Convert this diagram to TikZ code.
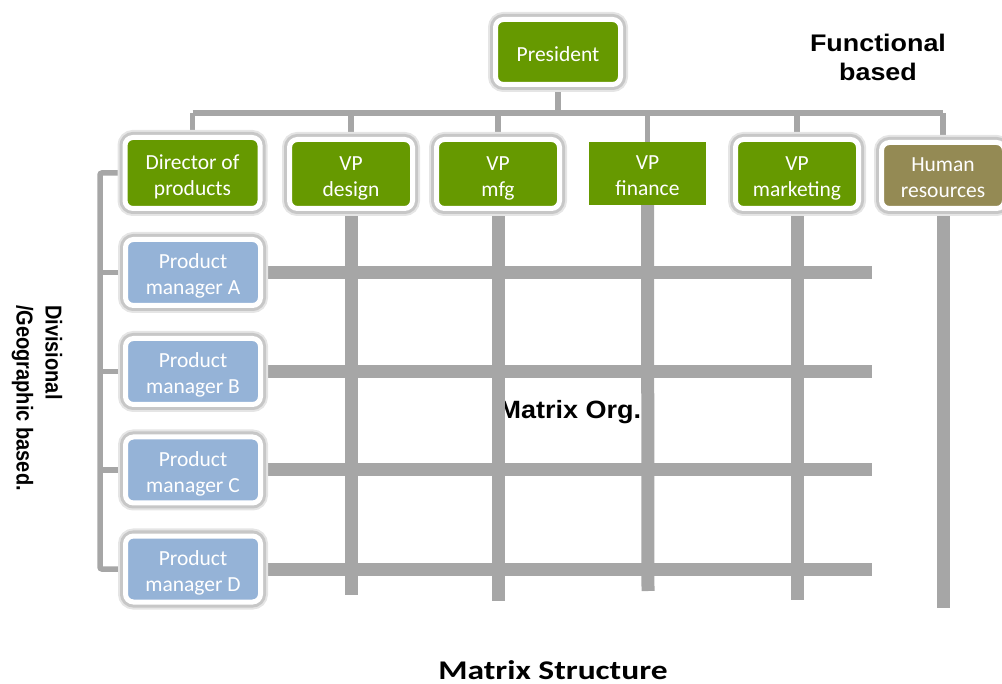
\documentclass[tikz,border=0pt]{standalone}
\usepackage{fontspec}
\setmainfont{Carlito}
\newfontfamily\arialfont{Liberation Sans}
\usetikzlibrary{backgrounds}
\definecolor{cgreen}{HTML}{669900}
\definecolor{cblue}{HTML}{95B3D7}
\definecolor{colive}{HTML}{948A54}
\definecolor{cline}{HTML}{A6A6A6}
\newcommand{\dn}[1]{\raisebox{-4pt}[\height][\depth]{\begin{tabular}{@{}c@{}}#1\end{tabular}}}
\tikzset{
  card/.style={rounded corners=8pt, draw=white, line width=5pt, text=white,
    align=center, inner sep=0pt,
    font=\fontsize{21.5}{26}\selectfont,
    preaction={draw=black!10, line width=15pt},
    preaction={draw=black!22, line width=11pt}},
  topcard/.style={card, fill=cgreen, minimum width=123pt, minimum height=69pt},
  pmcard/.style={card, fill=cblue, minimum width=135pt, minimum height=66pt},
  plaincard/.style={fill=cgreen, text=white, align=center, inner sep=0pt,
    font=\fontsize{21.5}{26}\selectfont, minimum width=117pt, minimum height=63pt},
  thinline/.style={draw=cline, line width=5.5pt},
  gridline/.style={draw=cline, line width=13pt},
  boldlabel/.style={font=\arialfont\bfseries\fontsize{24}{29}\selectfont, align=center}
}
\begin{document}
\begin{tikzpicture}[x=1pt,y=-1pt]
\useasboundingbox (0,0) rectangle (1002,684);
% nodes
\node[topcard, minimum width=125pt, minimum height=65pt] (pres) at (558,52) {\dn{President}};
\node[topcard, minimum width=135pt, minimum height=71pt] (dir) at (192.5,173) {\dn{Director of\\products}};
\node[topcard] (vpd) at (351,174) {\dn{VP\\design}};
\node[topcard] (vpm) at (498,174) {\dn{VP\\mfg}};
\node[plaincard] (vpf) at (647.5,173.5) {\dn{VP\\finance}};
\node[topcard] (vpk) at (797,174) {\dn{VP\\marketing}};
\node[topcard, fill=colive, minimum height=66pt] (hr) at (943,175.5) {\dn{Human\\resources}};
\node[pmcard] (pma) at (193,272.5) {\dn{Product\\manager A}};
\node[pmcard] (pmb) at (193,371.5) {\dn{Product\\manager B}};
\node[pmcard] (pmc) at (193,470) {\dn{Product\\manager C}};
\node[pmcard] (pmd) at (193,569) {\dn{Product\\manager D}};
% coordinates
\coordinate (bus) at (0,113);
\coordinate (lx) at (100,0);
\coordinate (rowend) at (872,0);
\coordinate (vpdend) at (351,595);
\coordinate (vpmend) at (498,601);
\coordinate (vpfend) at (648,591);
\coordinate (vpkend) at (797,600);
\coordinate (hrend) at (943.5,608);
% labels
\node[boldlabel, xscale=1.12] (func) at (878,57) {Functional\\based};
\node[boldlabel, font=\arialfont\bfseries\fontsize{23}{29}\selectfont, align=left, rotate=-90, xscale=0.87] (div) at (37,398) {Divisional\\/Geographic based.};
\node[font=\bfseries\fontsize{27}{32}\selectfont, anchor=base, inner sep=0pt, xscale=1.24] (title) at (553,679) {Matrix Structure};
\begin{scope}[on background layer]
  \node[boldlabel, font=\arialfont\bfseries\fontsize{25}{30}\selectfont, anchor=base, xscale=1.08] (morg) at (570,419) {Matrix Org.};
  % thin connectors
  \draw[thinline] (pres.south) -- (pres.south |- bus);
  \draw[thinline] (dir.north |- bus) -- (hr.north |- bus);
  \foreach \n in {dir,vpd,vpm,vpf,vpk,hr} {
    \draw[thinline] (\n.north) -- (\n.north |- bus);
  }
  \draw[thinline, rounded corners=2pt] (dir.west) -- (dir.west -| lx) |- (pmd.west);
  \foreach \n in {pma,pmb,pmc} {
    \draw[thinline] (\n.west) -- (\n.west -| lx);
  }
  % grid
  \foreach \n in {pma,pmb,pmc,pmd} {
    \draw[gridline] (\n.east) -- (\n.east -| rowend);
  }
  \draw[gridline] (vpd.south) -- (vpdend);
  \draw[gridline] (vpm.south) -- (vpmend);
  \draw[gridline] (vpf.south) -- (vpfend);
  \draw[gridline] (vpk.south) -- (vpkend);
  \draw[gridline] (hr.south -| hrend) -- (hrend);
\end{scope}
\end{tikzpicture}
\end{document}
